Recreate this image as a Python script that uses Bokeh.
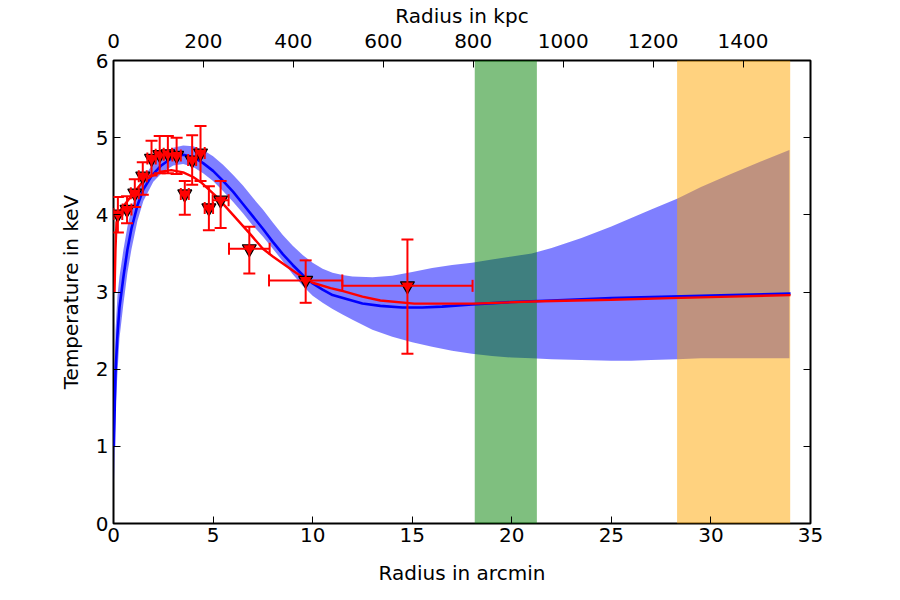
from bokeh.plotting import figure
from bokeh.models import (Range1d, LinearAxis, FixedTicker, ColumnDataSource,
                          Whisker, TeeHead, CustomJSTickFormatter)
from bokeh.embed import file_html
from bokeh.resources import INLINE

# ---------------- measured temperature profile ----------------
r_arcmin = [0.22, 0.68, 1.07, 1.47, 1.91, 2.32, 2.73, 3.17, 3.58, 3.95,
            4.37, 4.79, 5.38, 6.82, 9.65, 14.76]
r_err = [0.22, 0.22, 0.20, 0.20, 0.21, 0.20, 0.21, 0.21, 0.20, 0.20,
         0.21, 0.21, 0.40, 1.02, 1.84, 3.27]
kT = [4.01, 4.07, 4.28, 4.50, 4.73, 4.78, 4.79, 4.77, 4.27, 4.71,
      4.80, 4.09, 4.19, 3.56, 3.15, 3.08]
kT_err_lo = [0.24, 0.18, 0.18, 0.24, 0.22, 0.24, 0.25, 0.24, 0.27, 0.32,
             0.36, 0.29, 0.36, 0.32, 0.29, 0.88]
kT_err_hi = [0.22, 0.17, 0.18, 0.18, 0.23, 0.24, 0.23, 0.23, 0.17, 0.32,
             0.35, 0.28, 0.25, 0.285, 0.26, 0.60]

# ---------------- deprojected model (blue) with its envelope ----------------
model_r = [0.02, 0.1, 0.2, 0.3, 0.5, 0.7, 0.9, 1.2, 1.5, 1.9, 2.4, 3.0, 3.5,
           4.0, 4.5, 5.0, 5.5, 6.0, 6.5, 7.0, 7.5, 8.0, 8.5, 9.0, 9.5, 10.0,
           10.5, 11.0, 11.7, 12.5, 13.4, 14.5, 15.5, 16.5, 18.0, 20.0, 22.0,
           25.0, 28.0, 31.0, 34.0]
model_kT = [1.0, 1.95, 2.45, 2.8, 3.2, 3.55, 3.82, 4.12, 4.33, 4.50, 4.64,
            4.75, 4.78, 4.75, 4.67, 4.57, 4.44, 4.30, 4.14, 3.98, 3.82, 3.65,
            3.49, 3.35, 3.22, 3.11, 3.03, 2.96, 2.91, 2.85, 2.82, 2.80, 2.80,
            2.81, 2.84, 2.87, 2.89, 2.92, 2.94, 2.96, 2.98]

env_r = [0.02, 0.1, 0.2, 0.3, 0.5, 0.7, 0.9, 1.2, 1.5, 2.0, 2.5, 3.0, 3.5,
         4.0, 4.5, 5.0, 5.5, 6.0, 6.5, 7.0, 7.5, 8.0, 8.5, 9.0, 9.5, 10.0,
         10.5, 11.0, 11.5, 12.0, 13.0, 14.0, 15.0, 16.0, 17.0, 18.0, 19.0,
         20.0, 21.0, 22.0, 23.5, 25.0, 26.0, 27.0, 28.3, 29.5, 31.0, 32.5,
         33.94]
env_hi = [1.6, 2.5, 2.95, 3.2, 3.55, 3.85, 4.08, 4.32, 4.48, 4.67, 4.79,
          4.87, 4.90, 4.89, 4.84, 4.76, 4.65, 4.52, 4.38, 4.22, 4.07, 3.90,
          3.74, 3.60, 3.48, 3.38, 3.30, 3.25, 3.22, 3.20, 3.19, 3.21, 3.26,
          3.31, 3.35, 3.38, 3.42, 3.46, 3.50, 3.57, 3.70, 3.85, 3.96, 4.07,
          4.21, 4.36, 4.53, 4.69, 4.84]
env_lo = [0.5, 1.45, 1.95, 2.4, 2.85, 3.25, 3.55, 3.92, 4.18, 4.43, 4.56,
          4.64, 4.66, 4.62, 4.54, 4.44, 4.31, 4.17, 4.02, 3.86, 3.72, 3.56,
          3.40, 3.23, 3.08, 2.95, 2.86, 2.78, 2.71, 2.64, 2.51, 2.42, 2.35,
          2.29, 2.24, 2.20, 2.17, 2.15, 2.14, 2.13, 2.12, 2.11, 2.11, 2.12,
          2.13, 2.14, 2.14, 2.14, 2.14]

# ---------------- projected fit (red) ----------------
fit_r = [0.05, 0.1, 0.15, 0.25, 0.4, 0.7, 1.0, 1.5, 1.9, 2.4, 2.9, 3.5, 4.0,
         4.4, 5.2, 6.0, 6.9, 7.5, 8.0, 8.5, 9.0, 9.5, 10.0, 10.9, 11.4, 12.5,
         13.4, 15.1, 18.1, 21.5, 25.0, 28.0, 31.0, 34.0]
fit_kT = [3.0, 3.55, 3.9, 4.02, 4.08, 4.18, 4.28, 4.44, 4.50, 4.56, 4.58,
          4.55, 4.49, 4.42, 4.23, 4.00, 3.74, 3.56, 3.46, 3.37, 3.28, 3.19,
          3.12, 3.05, 3.02, 2.94, 2.89, 2.85, 2.85, 2.88, 2.90, 2.92, 2.94,
          2.96]

# ---------------- shaded radial ranges ----------------
span_left = [18.14, 28.3]
span_right = [21.26, 33.98]
span_color = ["green", "orange"]

# ---------------- axes ----------------
x_ticks = [0, 5, 10, 15, 20, 25, 30, 35]
y_ticks = [0, 1, 2, 3, 4, 5, 6]
kpc_ticks = [0, 200, 400, 600, 800, 1000, 1200, 1400]
kpc_max = 1550

FONT = "DejaVu Sans"
FS = "20px"

p = figure(width=900, height=600, x_range=Range1d(0, 35), y_range=Range1d(0, 6),
           output_backend="svg", toolbar_location=None,
           min_border_left=113, min_border_right=90,
           min_border_top=60, min_border_bottom=77,
           x_axis_label="Radius in arcmin", y_axis_label="Temperature in keV")
p.extra_x_ranges = {"kpc": Range1d(0, kpc_max)}
p.xgrid.visible = False
p.ygrid.visible = False
p.outline_line_color = "black"
p.outline_line_width = 2
p.outline_line_alpha = 1.0
p.background_fill_color = "white"
p.border_fill_color = "white"

bottom_axis = p.below[0]
left_axis = p.left[0]
bottom_axis.ticker = FixedTicker(ticks=x_ticks)
left_axis.ticker = FixedTicker(ticks=y_ticks)

top_axis = LinearAxis(x_range_name="kpc", axis_label="Radius in kpc",
                      ticker=FixedTicker(ticks=kpc_ticks))
right_axis = LinearAxis(ticker=FixedTicker(ticks=y_ticks),
                        formatter=CustomJSTickFormatter(code="return ''"))
p.add_layout(top_axis, "above")
p.add_layout(right_axis, "right")

for ax in [bottom_axis, left_axis, top_axis, right_axis]:
    ax.axis_line_color = None
    ax.major_tick_in = 7
    ax.major_tick_out = 0
    ax.major_tick_line_color = "black"
    ax.major_tick_line_width = 1
    ax.minor_tick_line_color = None
    ax.major_label_text_font = FONT
    ax.major_label_text_font_size = FS
    ax.major_label_text_color = "black"
    ax.axis_label_text_font = FONT
    ax.axis_label_text_font_size = FS
    ax.axis_label_text_font_style = "normal"
    ax.axis_label_text_color = "black"

bottom_axis.major_label_standoff = 4
bottom_axis.axis_label_standoff = 16
left_axis.major_label_standoff = 5
left_axis.axis_label_standoff = 10
top_axis.major_label_standoff = 13
top_axis.axis_label_standoff = 3

# model envelope
p.varea(x=env_r, y1=env_lo, y2=env_hi, fill_color="blue", fill_alpha=0.5)

# shaded radial ranges
p.quad(left=span_left, right=span_right, bottom=0, top=6,
       fill_color=span_color, fill_alpha=0.5, line_color=None)

# model curves
p.line(model_r, model_kT, line_color="blue", line_width=2.6)
p.line(fit_r, fit_kT, line_color="red", line_width=2.4)

# data with asymmetric error bars
src = ColumnDataSource(dict(
    r=r_arcmin, kT=kT,
    r_lo=[r - e for r, e in zip(r_arcmin, r_err)],
    r_hi=[r + e for r, e in zip(r_arcmin, r_err)],
    kT_lo=[t - e for t, e in zip(kT, kT_err_lo)],
    kT_hi=[t + e for t, e in zip(kT, kT_err_hi)],
))


def tee():
    return TeeHead(size=12, line_color="red", line_width=2)


yerr = Whisker(source=src, base="r", lower="kT_lo", upper="kT_hi",
               dimension="height", line_color="red", line_width=2,
               lower_head=tee(), upper_head=tee(), level="glyph")
xerr = Whisker(source=src, base="kT", lower="r_lo", upper="r_hi",
               dimension="width", line_color="red", line_width=2,
               lower_head=tee(), upper_head=tee(), level="glyph")
p.add_layout(yerr)
p.add_layout(xerr)

p.scatter("r", "kT", source=src, marker="inverted_triangle", size=14,
          fill_color="red", line_color="black", line_width=1.2)

open("out.html", "w").write(file_html(p, INLINE))
